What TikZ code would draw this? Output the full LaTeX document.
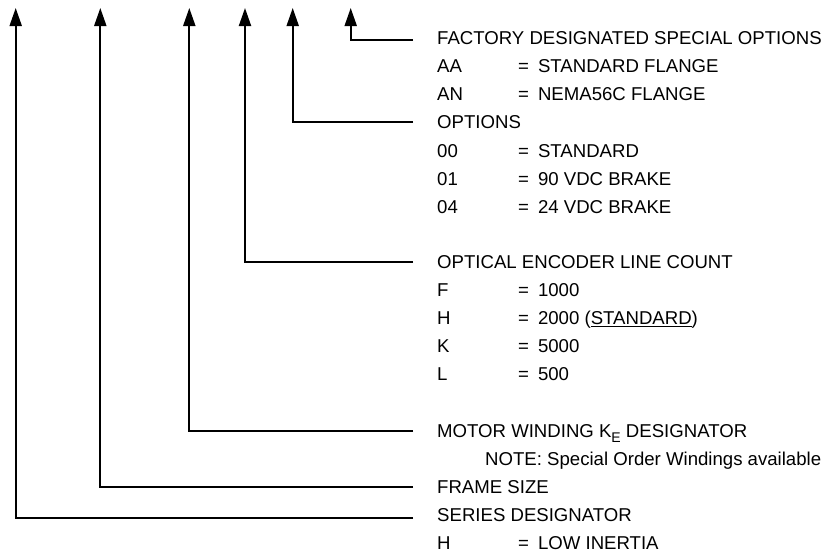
\documentclass[tikz,border=0pt]{standalone}
\usepackage{fontspec}
\setmainfont{Liberation Sans}
\usetikzlibrary{arrows.meta}
\begin{document}
\begin{tikzpicture}[x=1pt,y=-1pt,
  lbl/.style={anchor=base west,inner sep=0pt,font=\fontsize{18.6}{22}\selectfont},
  conn/.style={line width=2pt,-{Triangle[length=18pt,width=12pt]}}]
\useasboundingbox (0,0) rectangle (827,555);
% arrow tips
\coordinate (t1) at (15.7,8);
\coordinate (t2) at (100.3,8);
\coordinate (t3) at (189.3,8);
\coordinate (t4) at (245,8);
\coordinate (t5) at (292.7,8);
\coordinate (t6) at (350.7,8);
% line ends beside the labels
\coordinate (e1) at (413,518);
\coordinate (e2) at (413,487);
\coordinate (e3) at (413,431);
\coordinate (e4) at (413,262);
\coordinate (e5) at (413,122);
\coordinate (e6) at (413,40);
% factory options
\node[lbl] (fac) at (437,44) {FACTORY DESIGNATED SPECIAL OPTIONS};
\node[lbl] (aa) at (437,72.3) {AA};
\node[lbl] (aav) at (518,72.3) {=\hspace{9pt}STANDARD FLANGE};
\node[lbl] (an) at (437,100.6) {AN};
\node[lbl] (anv) at (518,100.6) {=\hspace{9pt}NEMA56C FLANGE};
% options
\node[lbl] (opt) at (437,128.9) {OPTIONS};
\node[lbl] (o0) at (437,157.2) {00};
\node[lbl] (o0v) at (518,157.2) {=\hspace{9pt}STANDARD};
\node[lbl] (o1) at (437,185.5) {01};
\node[lbl] (o1v) at (518,185.5) {=\hspace{9pt}90 VDC BRAKE};
\node[lbl] (o4) at (437,213.8) {04};
\node[lbl] (o4v) at (518,213.8) {=\hspace{9pt}24 VDC BRAKE};
% encoder
\node[lbl] (enc) at (437,268) {OPTICAL ENCODER LINE COUNT};
\node[lbl] (ef) at (437,296.2) {F};
\node[lbl] (efv) at (518,296.2) {=\hspace{9pt}1000};
\node[lbl] (eh) at (437,324.4) {H};
\node[lbl] (ehv) at (518,324.4) {=\hspace{9pt}2000 (\underline{STANDARD})};
\node[lbl] (ek) at (437,352.6) {K};
\node[lbl] (ekv) at (518,352.6) {=\hspace{9pt}5000};
\node[lbl] (el) at (437,380.8) {L};
\node[lbl] (elv) at (518,380.8) {=\hspace{9pt}500};
% motor winding, frame, series
\node[lbl] (mot) at (437,437) {MOTOR WINDING K\raisebox{-0.3em}{\fontsize{14}{14}\selectfont E} DESIGNATOR};
\node[lbl] (note) at (485,465) {NOTE: Special Order Windings available};
\node[lbl] (frm) at (437,493) {FRAME SIZE};
\node[lbl] (ser) at (437,521) {SERIES DESIGNATOR};
\node[lbl] (sh) at (437,549) {H};
\node[lbl] (shv) at (518,549) {=\hspace{9pt}LOW INERTIA};
% connectors
\draw[conn] (e1) -| (t1);
\draw[conn] (e2) -| (t2);
\draw[conn] (e3) -| (t3);
\draw[conn] (e4) -| (t4);
\draw[conn] (e5) -| (t5);
\draw[conn] (e6) -| (t6);
\end{tikzpicture}
\end{document}
